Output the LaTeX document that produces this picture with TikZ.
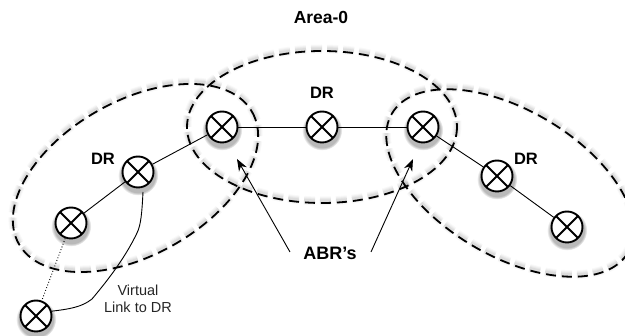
\documentclass[tikz,border=0pt]{standalone}
\usepackage{fontspec}
\setmainfont{Liberation Sans}
\usetikzlibrary{shadows,arrows.meta}
\tikzset{
  xnode/.style={circle,draw=black,fill=white,line width=1.9pt,minimum size=31pt,inner sep=0pt,
    circular drop shadow={shadow xshift=0pt,shadow yshift=-2.5pt,shadow scale=1.3,opacity=.55},
    path picture={\draw[line width=1.9pt] (path picture bounding box.south west)--(path picture bounding box.north east)
      (path picture bounding box.north west)--(path picture bounding box.south east);}},
  link/.style={line width=.9pt,black},
  arrowline/.style={line width=.9pt,black,-{Stealth[length=12pt,width=9pt]}},
  lbl/.style={font=\bfseries\fontsize{16.5}{18}\selectfont,inner sep=0pt},
  small/.style={font=\fontsize{14.5}{17}\selectfont,inner sep=0pt,align=center,text=black!85},
  zone/.style={line width=1.8pt,dash pattern=on 10pt off 6pt,black},
}
\newcommand{\zoneshadow}[1]{%
  \foreach \w/\o in {9/.025,7/.03,5/.04,3/.05}{
    \draw[line width=\w pt,black,opacity=\o,yshift=2pt,dash pattern=on 11pt off 5pt] #1;}}
\begin{document}
\begin{tikzpicture}[x=1pt,y=-1pt]
\useasboundingbox (0,0) rectangle (625,336);
\def\Za{(135.5,178) ellipse [x radius=134,y radius=77,rotate=29.5]}
\def\Zb{(322,127) ellipse [x radius=135,y radius=76]}
\def\Zc{(510,183) ellipse [x radius=137,y radius=73,rotate=-30.5]}
\zoneshadow{\Za}\zoneshadow{\Zb}\zoneshadow{\Zc}
\draw[zone] \Za;
\draw[zone] \Zb;
\draw[zone] \Zc;
\node[xnode] (a) at (222,127) {};
\node[xnode] (b) at (322,127) {};
\node[xnode] (c) at (423,127) {};
\node[xnode] (d) at (138,172) {};
\node[xnode] (e) at (71,223) {};
\node[xnode] (f) at (36,316) {};
\node[xnode] (g) at (497,176) {};
\node[xnode] (h) at (567,227) {};
\draw[link] (a)--(b);
\draw[link] (b)--(c);
\draw[link] (a)--(d);
\draw[link] (d)--(e);
\draw[link] (c)--(g);
\draw[link] (g)--(h);
\draw[line width=.9pt,dotted] (e)--(f);
\coordinate (vl) at (143,192);
\draw[link] (f.17) .. controls (70,309) and (82,307) .. (92,299) .. controls (108,280) and (125,258) .. (137,233) .. controls (141,225) and (142,212) .. (vl);
\node[lbl,font=\bfseries\fontsize{17.5}{19}\selectfont] (t0) at (321,17.5) {Area-0};
\node[lbl] (t1) at (322,93) {DR};
\node[lbl] (t2) at (103,158.5) {DR};
\node[lbl] (t3) at (526,158.5) {DR};
\node[lbl,font=\bfseries\fontsize{18}{20}\selectfont] (abr) at (330,253.5) {ABR's};
\node[small] (t4) at (138,298.5) {Virtual\\Link to DR};
\coordinate (p1) at (290,252);
\coordinate (q1) at (237,159);
\coordinate (p2) at (371,252);
\coordinate (q2) at (413,159);
\draw[arrowline] (p1)--(q1);
\draw[arrowline] (p2)--(q2);
\end{tikzpicture}
\end{document}
